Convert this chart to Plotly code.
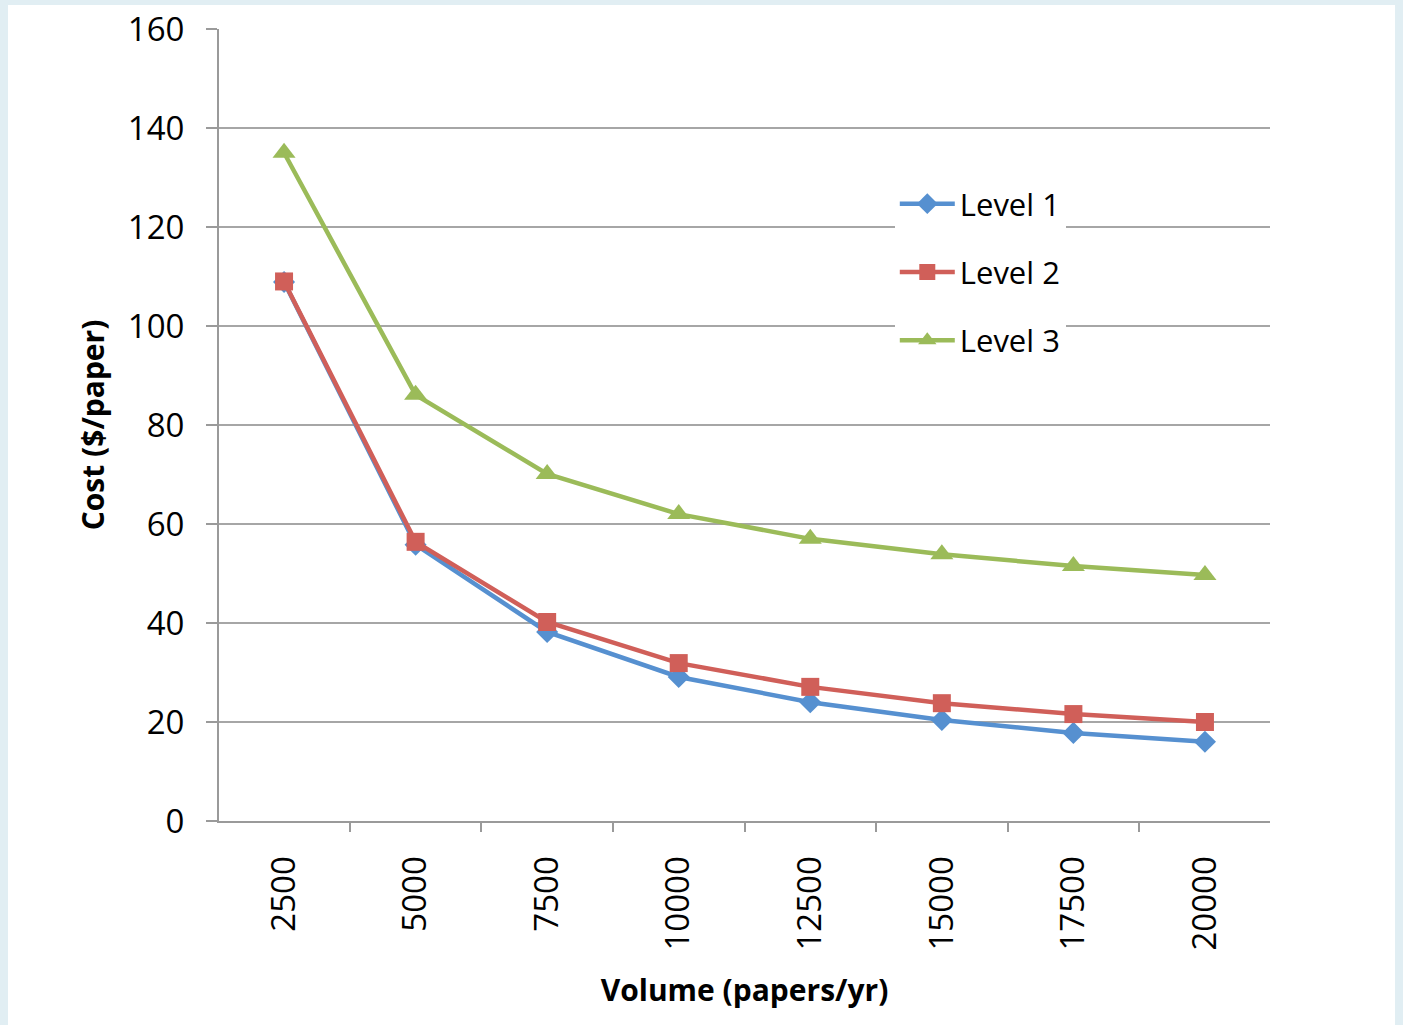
import plotly.graph_objects as go

volumes = ["2500", "5000", "7500", "10000", "12500", "15000", "17500", "20000"]
level1 = [108.9, 55.8, 38.2, 29.1, 24.0, 20.4, 17.8, 16.0]
level2 = [109.0, 56.4, 40.2, 31.9, 27.1, 23.8, 21.6, 20.0]
level3 = [135.0, 86.1, 70.1, 62.0, 57.0, 53.9, 51.5, 49.7]

series = [
    ("Level 1", level1, "#5690d0", "diamond", 17),
    ("Level 2", level2, "#d05f59", "square", 18),
    ("Level 3", level3, "#9bbb59", "triangle-up", 20),
]

font_family = "Open Sans, Liberation Sans, sans-serif"

T, B, L, R = 29, 204, 219, 133
PH = 1025 - T - B
PW = 1403 - L - R

fig = go.Figure()
for name, vals, color, sym, size in series:
    fig.add_trace(go.Scatter(
        x=volumes, y=vals, name=name, mode="lines+markers",
        line=dict(color=color, width=4.5),
        marker=dict(symbol=sym, size=size, color=color),
        legendgroup=name,
    ))

# white inner panel on light-blue page background
fig.add_shape(type="rect", xref="paper", yref="paper",
              x0=(8 - L) / PW, x1=(1395 - L) / PW,
              y0=(1025 - B - 1030) / PH, y1=(1025 - B - 5) / PH,
              fillcolor="white", line=dict(width=0), layer="below")

fig.update_layout(
    width=1403, height=1025,
    paper_bgcolor="#e1eef3",
    plot_bgcolor="rgba(0,0,0,0)",
    margin=dict(l=L, r=R, t=T, b=B, autoexpand=False),
    font=dict(family=font_family, size=33, color="#000000"),
    showlegend=True,
    legend=dict(
        x=0.643, y=(1025 - B - 177) / PH, xanchor="left", yanchor="top",
        bgcolor="white", font=dict(size=31),
        itemwidth=55, traceorder="grouped", tracegroupgap=25,
    ),
    xaxis=dict(
        type="category",
        title=dict(text="<b>Volume (papers/yr)</b>", font=dict(size=30), standoff=30),
        tickangle=-90,
        showgrid=False,
        showline=True, linecolor="#9a9a9a", linewidth=2,
        ticks="outside", tickson="boundaries", ticklen=9, tickcolor="#9a9a9a", tickwidth=2,
        tickfont=dict(size=33),
        ticklabelstandoff=20,
        automargin=False,
        fixedrange=True,
    ),
    yaxis=dict(
        range=[0, 160], dtick=20,
        title=dict(text="<b>Cost ($/paper)</b>", font=dict(size=30), standoff=14),
        showgrid=True, gridcolor="#a6a6a6", gridwidth=1.5,
        showline=True, linecolor="#9a9a9a", linewidth=2,
        ticks="outside", ticklen=11, tickcolor="#9a9a9a", tickwidth=2,
        tickfont=dict(size=33),
        ticklabelstandoff=15,
        automargin=False,
        zeroline=False,
        fixedrange=True,
    ),
)

fig.write_html("out.html", config={"displayModeBar": False},
               post_script="document.body.style.margin='0px';document.body.style.overflow='hidden';")
